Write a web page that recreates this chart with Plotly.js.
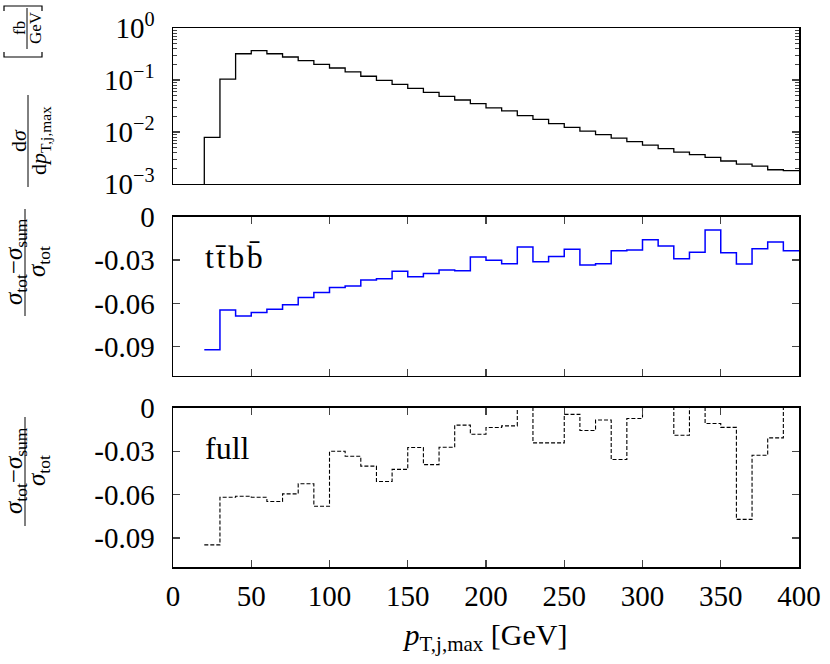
<!DOCTYPE html>
<html>
<head>
<meta charset="utf-8">
<script src="https://cdn.plot.ly/plotly-3.0.1.min.js"></script>
<style>
  html, body { margin: 0; padding: 0; background: #fff; }
  #chart { width: 830px; height: 664px; }
</style>
</head>
<body>
<div id="chart"></div>
<script>
// bin edges in GeV (10 GeV bins)
const edges = [20, 30, 40, 50, 60, 70, 80, 90, 100, 110, 120, 130, 140, 150, 160, 170, 180, 190, 200,
  210, 220, 230, 240, 250, 260, 270, 280, 290, 300, 310, 320, 330, 340, 350, 360, 370, 380, 390, 400];

// dsigma/dpT in fb/GeV
const dsigma = [0.0079, 0.104, 0.32, 0.366, 0.32, 0.277, 0.235, 0.2, 0.17, 0.143,
  0.118, 0.0986, 0.0826, 0.069, 0.058, 0.0486, 0.0412, 0.035, 0.029, 0.0254,
  0.0206, 0.0175, 0.0145, 0.0123, 0.0104, 0.0089, 0.0076, 0.0065, 0.0056, 0.0048,
  0.0041, 0.00366, 0.00326, 0.00277, 0.0024, 0.0022, 0.00188, 0.0018];

// (sigma_tot - sigma_sum) / sigma_tot, ttbb
const ttbbRatio = [-0.0921, -0.0645, -0.0688, -0.0663, -0.064, -0.061, -0.056, -0.0525, -0.0491, -0.0479,
  -0.0438, -0.0429, -0.0378, -0.0415, -0.0394, -0.0369, -0.0374, -0.0279, -0.0301, -0.0325,
  -0.021, -0.0312, -0.0275, -0.0226, -0.0334, -0.0325, -0.0236, -0.0231, -0.016, -0.0203,
  -0.0291, -0.0247, -0.0093, -0.025, -0.0328, -0.0222, -0.0176, -0.0236];

// (sigma_tot - sigma_sum) / sigma_tot, full
const fullRatio = [-0.0947, -0.0618, -0.0611, -0.0618, -0.0648, -0.0595, -0.0525, -0.068, -0.0301, -0.0335,
  -0.0403, -0.0509, -0.0426, -0.0275, -0.0393, -0.0273, -0.012, -0.0183, -0.0137, -0.0125,
  0.003, -0.0243, -0.0243, -0.0046, -0.0157, -0.0085, -0.0358, -0.0074, 0.003, 0.003,
  -0.019, 0.003, -0.0109, -0.0136, -0.0771, -0.0328, -0.0208, 0.003];

const xTicks = [0, 50, 100, 150, 200, 250, 300, 350, 400];
const logTicks = [0.001, 0.01, 0.1, 1];
const logTickText = ['10<sup>−3</sup>', '10<sup>−2</sup>', '10<sup>−1</sup>', '10<sup>0</sup>'];
const ratioTicks = [0, -0.03, -0.06, -0.09];
const ratioTickText = ['0', '-0.03', '-0.06', '-0.09'];

const FONT = 'Liberation Serif, DejaVu Serif, serif';

// minor log ticks 2..9 per decade
const minorLog = [];
[0.001, 0.01, 0.1].forEach(d => { for (let k = 2; k <= 9; k++) minorLog.push(k * d); });

function stepY(vals) { return vals.concat([vals[vals.length - 1]]); }

const traces = [
  {
    x: [edges[0]].concat(edges), y: [1e-6].concat(stepY(dsigma)),
    xaxis: 'x3', yaxis: 'y3', mode: 'lines', line: {shape: 'hv', color: '#000', width: 1.3},
    hoverinfo: 'skip'
  },
  {
    x: edges, y: stepY(ttbbRatio),
    xaxis: 'x2', yaxis: 'y2', mode: 'lines', line: {shape: 'hv', color: '#0000ff', width: 1.5},
    hoverinfo: 'skip'
  },
  {
    x: edges, y: stepY(fullRatio),
    xaxis: 'x', yaxis: 'y', mode: 'lines', line: {shape: 'hv', color: '#000', width: 1.1, dash: '4px,2px'},
    hoverinfo: 'skip'
  }
];

const frame = {showline: true, linecolor: '#000', linewidth: 1.5, showgrid: false, zeroline: false};
const tickFont = {family: FONT, size: 29, color: '#000'};

// pixel -> paper helpers for the hand-built fraction labels
const L = 173, W = 626, T = 28, H = 539;
const px = x => (x - L) / W;
const py = y => (T + H - y) / H;

function rotLabel(text, x, y, size) {
  return {text: text, x: px(x), y: py(y), xref: 'paper', yref: 'paper', showarrow: false, borderpad: 0,
    textangle: -90, xanchor: 'center', yanchor: 'middle', font: {family: FONT, size: size, color: '#000'}};
}
function vbar(x, y0, y1) {
  return {type: 'line', xref: 'paper', yref: 'paper', x0: px(x), x1: px(x), y0: py(y0), y1: py(y1),
    line: {color: '#000', width: 1}};
}
function bracket(y, yEnd) {
  return {type: 'path', xref: 'paper', yref: 'paper',
    path: 'M' + px(4) + ',' + py(yEnd) + ' L' + px(4) + ',' + py(y) + ' L' + px(42) + ',' + py(y) + ' L' + px(42) + ',' + py(yEnd),
    line: {color: '#000', width: 1.2}};
}

const ratioNum = '<i>σ</i><sub>tot</sub>−<i>σ</i><sub>sum</sub>';
const ratioDen = '<i>σ</i><sub>tot</sub>';

const layout = {
  width: 830, height: 664,
  margin: {l: L, r: 830 - L - W, t: T, b: 664 - T - H},
  paper_bgcolor: '#fff', plot_bgcolor: '#fff',
  showlegend: false,
  font: {family: FONT, color: '#000'},
  xaxis: Object.assign({}, frame, {
    anchor: 'y', range: [0, 400], tickvals: xTicks, ticks: 'inside', ticklen: 7, tickwidth: 1.2,
    mirror: 'allticks', tickfont: tickFont, ticklabelstandoff: 3,
    title: {text: '<i>p</i><sub>T,j,max</sub> [GeV]', font: {family: FONT, size: 30}, standoff: 12}
  }),
  yaxis: Object.assign({}, frame, {
    domain: [0, 0.2955], range: [-0.11, 0], tickvals: ratioTicks, ticktext: ratioTickText,
    ticks: 'inside', ticklen: 7, tickwidth: 1.2, mirror: 'allticks', tickfont: tickFont, ticklabelstandoff: 11
  }),
  xaxis2: Object.assign({}, frame, {
    anchor: 'y2', range: [0, 400], tickvals: xTicks, ticks: 'inside', ticklen: 7, tickwidth: 1.2,
    mirror: 'allticks', showticklabels: false
  }),
  yaxis2: Object.assign({}, frame, {
    domain: [0.355, 0.650], range: [-0.11, 0], tickvals: ratioTicks, ticktext: ratioTickText,
    ticks: 'inside', ticklen: 7, tickwidth: 1.2, mirror: 'allticks', tickfont: tickFont, ticklabelstandoff: 11
  }),
  xaxis3: Object.assign({}, frame, {
    anchor: 'y3', range: [0, 400], ticks: '', mirror: true, showticklabels: false
  }),
  yaxis3: Object.assign({}, frame, {
    domain: [0.7106, 1], type: 'log', range: [-3, 0], tickvals: logTicks, ticktext: logTickText,
    ticks: 'inside', ticklen: 7, tickwidth: 1.2, mirror: 'allticks', tickfont: tickFont, ticklabelstandoff: 11,
    minor: {tickvals: minorLog, ticks: 'inside', ticklen: 4, tickwidth: 1, showgrid: false}
  }),
  annotations: [
    // top y label: dσ / dp [fb/GeV]
    rotLabel('d<i>σ</i>', 18, 141, 22),
    rotLabel('d<i>p</i><sub>T,j,max</sub>', 40, 141, 22),
    rotLabel('fb', 19, 28, 17),
    rotLabel('GeV', 35, 28, 17),
    // ratio labels
    rotLabel(ratioNum, 15, 262, 25),
    rotLabel(ratioDen, 38, 262, 25),
    rotLabel(ratioNum, 15, 471, 25),
    rotLabel(ratioDen, 38, 471, 25),
    // in-panel labels
    {text: 't\u200At\u0304\u200Ab\u200Ab\u0304', xref: 'x2', yref: 'y2', x: 19, y: -0.028, xanchor: 'left', yanchor: 'middle',
      showarrow: false, font: {family: FONT, size: 32, color: '#000'}},
    {text: 'full', xref: 'x', yref: 'y', x: 19, y: -0.0275, xanchor: 'left', yanchor: 'middle',
      showarrow: false, font: {family: FONT, size: 32, color: '#000'}}
  ],
  shapes: [
    vbar(28, 95, 187),
    vbar(27, 8, 49),
    bracket(57, 52),
    bracket(6, 11),
    vbar(25, 209, 316),
    vbar(25, 417, 526)
  ]
};

Plotly.newPlot('chart', traces, layout, {staticPlot: true, displayModeBar: false});
</script>
</body>
</html>
